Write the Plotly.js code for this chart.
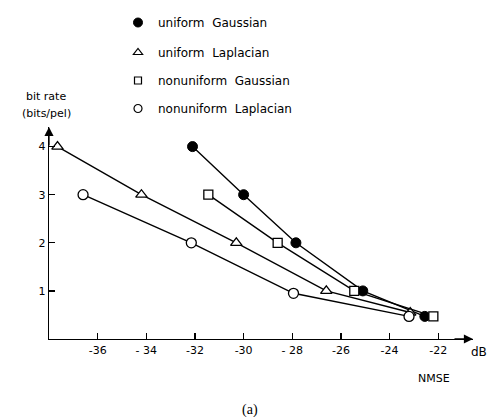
<!DOCTYPE html>
<html>
<head>
<meta charset="utf-8">
<script src="https://cdn.plot.ly/plotly-3.0.1.min.js"></script>
<style>html,body{margin:0;padding:0;background:#fff;}#chart{width:494px;height:417px;}</style>
</head>
<body>
<div id="chart"></div>
<script>
// Data (x: NMSE in dB, y: bit rate in bits/pel)
const seriesNames = ["uniform  Gaussian", "uniform  Laplacian", "nonuniform  Gaussian", "nonuniform  Laplacian"];
const uniGaussX = [-32.1, -30.0, -27.85, -25.1, -22.55];
const uniGaussY = [4, 3, 2, 1, 0.47];
const uniLapX = [-37.65, -34.2, -30.3, -26.6, -23.15];
const uniLapY = [4, 3, 2, 1, 0.55];
const nonGaussX = [-31.45, -28.6, -25.45, -22.2];
const nonGaussY = [3, 2, 1, 0.47];
const nonLapX = [-36.6, -32.15, -27.95, -23.2];
const nonLapY = [3, 2, 0.95, 0.47];
const xTickVals = [-36, -34, -32, -30, -28, -26, -24, -22];
const xTickText = ["-36", "- 34", "-32", "-30", "- 28", "-26", "-24", "-22"];
const yTickVals = [1, 2, 3, 4];

const FONT = "DejaVu Sans, Liberation Sans, sans-serif";
const markers = [
  {symbol: "circle", size: 10, color: "#000", line: {color: "#000", width: 1}},
  {symbol: "triangle-up", size: 10, color: "#fff", line: {color: "#000", width: 1.3}},
  {symbol: "square", size: 9, color: "#fff", line: {color: "#000", width: 1.3}},
  {symbol: "circle", size: 10, color: "#fff", line: {color: "#000", width: 1.3}}
];
const legendMarkers = [
  {symbol: "circle", size: 9, color: "#000", line: {color: "#000", width: 1}},
  {symbol: "triangle-up", size: 8, color: "#fff", line: {color: "#000", width: 1.2}},
  {symbol: "square", size: 7, color: "#fff", line: {color: "#000", width: 1.2}},
  {symbol: "circle", size: 8, color: "#fff", line: {color: "#000", width: 1.2}}
];
const xs = [uniGaussX, uniLapX, nonGaussX, nonLapX];
const ys = [uniGaussY, uniLapY, nonGaussY, nonLapY];

const traces = [];
for (let i = 0; i < 4; i++) {
  traces.push({
    x: xs[i], y: ys[i], type: "scatter", mode: "lines+markers",
    line: {color: "#000", width: 1.4}, marker: markers[i],
    showlegend: false, hoverinfo: "skip", cliponaxis: false
  });
}
const legendIds = ["legend", "legend2", "legend3", "legend4"];
for (let i = 0; i < 4; i++) {
  traces.push({
    x: [null], y: [null], type: "scatter", mode: "markers",
    marker: legendMarkers[i], name: seriesNames[i], legend: legendIds[i], showlegend: true
  });
}

const L = 49, B = 78, PW = 424, PH = 212;
const px = v => (v - L) / PW;
const py = v => (417 - v - B) / PH;

const rowsY = [18, 48, 76, 104];
const layout = {
  width: 494, height: 417,
  margin: {l: L, r: 21, t: 127, b: B, autoexpand: false},
  paper_bgcolor: "#fff", plot_bgcolor: "#fff",
  font: {family: FONT, color: "#000", size: 11},
  showlegend: true,
  xaxis: {
    range: [-38, -20.57], showgrid: false, zeroline: false,
    showline: true, linecolor: "#000", linewidth: 1.3,
    ticks: "inside", ticklen: 6, tickwidth: 1.2, tickcolor: "#000",
    tickvals: xTickVals, ticktext: xTickText, tickangle: 0,
    tickfont: {family: FONT, size: 11}, fixedrange: true, automargin: false
  },
  yaxis: {
    range: [0, PH / 48.1], showgrid: false, zeroline: false,
    showline: true, linecolor: "#000", linewidth: 1.3,
    ticks: "inside", ticklen: 6, tickwidth: 1.2, tickcolor: "#000",
    tickvals: yTickVals, ticktext: yTickVals.map(String),
    tickfont: {family: FONT, size: 11}, fixedrange: true, automargin: false
  },
  annotations: [
    {xref: "paper", yref: "paper", x: 0, y: 1.0, text: "", showarrow: true,
     ax: 0, ay: 20, arrowhead: 2, arrowsize: 1.4, arrowwidth: 1.3, arrowcolor: "#000", standoff: 0},
    {xref: "paper", yref: "paper", x: 1.0, y: 0, text: "", showarrow: true,
     ax: -20, ay: 0, arrowhead: 2, arrowsize: 1.4, arrowwidth: 1.3, arrowcolor: "#000", standoff: 0},
    {xref: "paper", yref: "paper", x: px(46), y: py(97), text: "bit rate",
     showarrow: false, font: {family: FONT, size: 11}, xanchor: "center", yanchor: "middle"},
    {xref: "paper", yref: "paper", x: px(46), y: py(114), text: "(bits/pel)",
     showarrow: false, font: {family: FONT, size: 11}, xanchor: "center", yanchor: "middle"},
    {xref: "paper", yref: "paper", x: px(479), y: py(352), text: "dB",
     showarrow: false, font: {family: FONT, size: 12}, xanchor: "center", yanchor: "middle"},
    {xref: "paper", yref: "paper", x: px(434), y: py(378), text: "NMSE",
     showarrow: false, font: {family: FONT, size: 11}, xanchor: "center", yanchor: "middle"},
    {xref: "paper", yref: "paper", x: px(250), y: py(410), text: "(a)",
     showarrow: false, font: {family: "Liberation Serif, serif", size: 14}, xanchor: "center", yanchor: "middle"}
  ]
};
for (let i = 0; i < 4; i++) {
  layout[legendIds[i]] = {
    xref: "container", yref: "container",
    x: 118 / 494, y: 1 - (rowsY[i] - 10) / 417, xanchor: "left", yanchor: "top",
    bgcolor: "rgba(0,0,0,0)", borderwidth: 0,
    font: {family: FONT, size: 12, color: "#000"},
    itemclick: false, itemdoubleclick: false
  };
}
Plotly.newPlot("chart", traces, layout, {staticPlot: true, displayModeBar: false});
</script>
</body>
</html>
